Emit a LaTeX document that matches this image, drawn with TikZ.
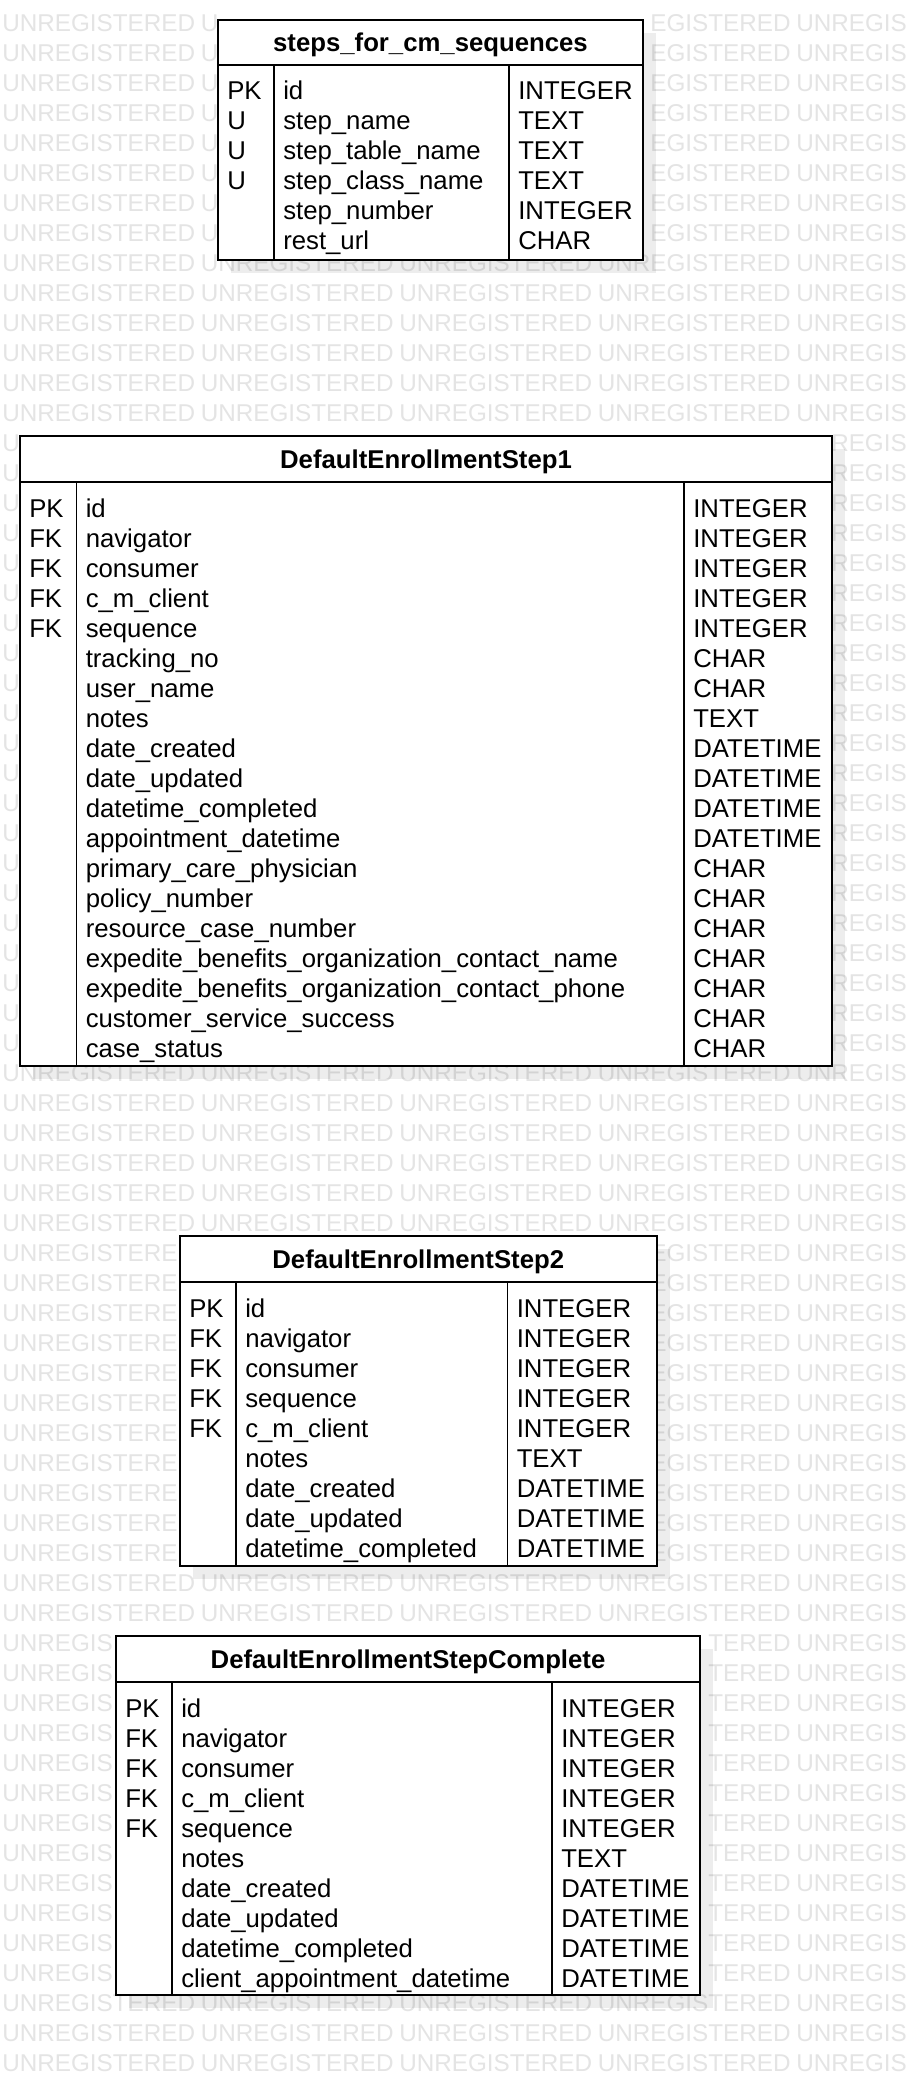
\documentclass[tikz,border=0pt]{standalone}
\usepackage{fontspec}
\setmainfont{Liberation Sans}
\definecolor{wmgray}{RGB}{228,228,228}
% one watermark piece: row, column index, x, text
\newcommand\wmw[4]{\node[wmark] (wm-#1-#2) at (#3,31.85+30*#1) {#4};}
\newcommand\wmfull[1]{%
  \wmw{#1}{0}{2}{UNREGISTERED}\wmw{#1}{1}{200.5}{UNREGISTERED}%
  \wmw{#1}{2}{399}{UNREGISTERED}\wmw{#1}{3}{597.5}{UNREGISTERED}%
  \wmw{#1}{4}{796}{UNREGIS}}
\begin{document}
\begin{tikzpicture}[x=0.75pt,y=-0.75pt,
  cell/.style={anchor=base west, inner sep=0pt, font=\fontsize{19.3}{23}\selectfont},
  headtxt/.style={anchor=base, inner sep=0pt, font=\fontsize{19.3}{23}\selectfont\bfseries},
  wmark/.style={anchor=base west, inner sep=0pt, text=wmgray, font=\fontsize{18.2}{20}\selectfont},
  frame/.style={draw=black, line width=1.5pt, fill=white, anchor=north west, inner sep=0pt, outer sep=0pt},
  shadowbox/.style={fill=black, fill opacity=0.07},
  headline/.style={draw=black, line width=1.5pt},
  colsep/.style={draw=black, line width=1.1pt}]

\useasboundingbox (0,0) rectangle (912,2076);
\fill[white] (0,0) rectangle (912,2076);

% ---------------- watermark (only the parts left visible around the tables)
\foreach \r in {8,...,13} {\wmfull{\r}}
\foreach \r in {35,...,40} {\wmfull{\r}}
\foreach \r in {52,53} {\wmfull{\r}}
\foreach \r in {66,...,68} {\wmfull{\r}}
\foreach \r in {0,...,7} {%
  \wmw{\r}{0}{2}{UNREGISTERED}\wmw{\r}{1}{200.5}{U}%
  \wmw{\r}{3}{650.1}{EGISTERED}\wmw{\r}{4}{796}{UNREGIS}}
\foreach \r in {14,...,34} {%
  \wmw{\r}{0}{2}{U}\wmw{\r}{4}{831}{REGIS}}
\foreach \r in {41,...,51} {%
  \wmw{\r}{0}{2}{UNREGISTERE}%
  \wmw{\r}{3}{650.1}{EGISTERED}\wmw{\r}{4}{796}{UNREGIS}}
\foreach \r in {54,...,65} {%
  \wmw{\r}{0}{2}{UNREGIS}%
  \wmw{\r}{3}{708.1}{TERED}\wmw{\r}{4}{796}{UNREGIS}}

% ---------------- Table 1
\fill[shadowbox] (231,33) rectangle (656,273);
\node[frame, minimum width=318.75pt, minimum height=180pt] (T1) at (218,20) {};
\draw[headline] (218,65) -- (643,65);
\draw[colsep] (274,65) -- (274,260);
\draw[colsep] (509,65) -- (509,260);
\node[headtxt] (T1h) at (430.5,52) {steps\_for\_cm\_sequences};
\foreach \ka/\na/\ta [count=\i from 0] in {
  PK/id/INTEGER,
  U/step\_name/TEXT,
  U/step\_table\_name/TEXT,
  U/step\_class\_name/TEXT,
  {}/step\_number/INTEGER,
  {}/rest\_url/CHAR} {
  \node[cell] (T1k\i) at (227,100+30*\i) {\ka};
  \node[cell] (T1n\i) at (283,100+30*\i) {\na};
  \node[cell] (T1t\i) at (518,100+30*\i) {\ta};
}

% ---------------- Table 2
\fill[shadowbox] (33,449) rectangle (845,1079);
\node[frame, minimum width=609pt, minimum height=472.5pt] (T2) at (20,436) {};
\draw[headline] (20,482) -- (832,482);
\draw[colsep] (76.5,482) -- (76.5,1066);
\draw[colsep] (684,482) -- (684,1066);
\node[headtxt] (T2h) at (426,468.5) {DefaultEnrollmentStep1};
\foreach \ka/\na/\ta [count=\i from 0] in {
  PK/id/INTEGER,
  FK/navigator/INTEGER,
  FK/consumer/INTEGER,
  FK/c\_m\_client/INTEGER,
  FK/sequence/INTEGER,
  {}/tracking\_no/CHAR,
  {}/user\_name/CHAR,
  {}/notes/TEXT,
  {}/date\_created/DATETIME,
  {}/date\_updated/DATETIME,
  {}/datetime\_completed/DATETIME,
  {}/appointment\_datetime/DATETIME,
  {}/primary\_care\_physician/CHAR,
  {}/policy\_number/CHAR,
  {}/resource\_case\_number/CHAR,
  {}/expedite\_benefits\_organization\_contact\_name/CHAR,
  {}/expedite\_benefits\_organization\_contact\_phone/CHAR,
  {}/customer\_service\_success/CHAR,
  {}/case\_status/CHAR} {
  \node[cell] (T2k\i) at (29,517+30*\i) {\ka};
  \node[cell] (T2n\i) at (85.5,517+30*\i) {\na};
  \node[cell] (T2t\i) at (693,517+30*\i) {\ta};
}

% ---------------- Table 3
\fill[shadowbox] (193,1249) rectangle (669.5,1579);
\node[frame, minimum width=357.375pt, minimum height=247.5pt] (T3) at (180,1236) {};
\draw[headline] (180,1282) -- (656.5,1282);
\draw[colsep] (236,1282) -- (236,1566);
\draw[colsep] (507.5,1282) -- (507.5,1566);
\node[headtxt] (T3h) at (418.25,1268.5) {DefaultEnrollmentStep2};
\foreach \ka/\na/\ta [count=\i from 0] in {
  PK/id/INTEGER,
  FK/navigator/INTEGER,
  FK/consumer/INTEGER,
  FK/sequence/INTEGER,
  FK/c\_m\_client/INTEGER,
  {}/notes/TEXT,
  {}/date\_created/DATETIME,
  {}/date\_updated/DATETIME,
  {}/datetime\_completed/DATETIME} {
  \node[cell] (T3k\i) at (189,1317+30*\i) {\ka};
  \node[cell] (T3n\i) at (245,1317+30*\i) {\na};
  \node[cell] (T3t\i) at (516.5,1317+30*\i) {\ta};
}

% ---------------- Table 4
\fill[shadowbox] (129,1649) rectangle (713,2008);
\node[frame, minimum width=438pt, minimum height=269.25pt] (T4) at (116,1636) {};
\draw[headline] (116,1682) -- (700,1682);
\draw[colsep] (172,1682) -- (172,1995);
\draw[colsep] (552,1682) -- (552,1995);
\node[headtxt] (T4h) at (408,1668.5) {DefaultEnrollmentStepComplete};
\foreach \ka/\na/\ta [count=\i from 0] in {
  PK/id/INTEGER,
  FK/navigator/INTEGER,
  FK/consumer/INTEGER,
  FK/c\_m\_client/INTEGER,
  FK/sequence/INTEGER,
  {}/notes/TEXT,
  {}/date\_created/DATETIME,
  {}/date\_updated/DATETIME,
  {}/datetime\_completed/DATETIME,
  {}/client\_appointment\_datetime/DATETIME} {
  \node[cell] (T4k\i) at (125,1717+30*\i) {\ka};
  \node[cell] (T4n\i) at (181,1717+30*\i) {\na};
  \node[cell] (T4t\i) at (561,1717+30*\i) {\ta};
}
\end{tikzpicture}
\end{document}
